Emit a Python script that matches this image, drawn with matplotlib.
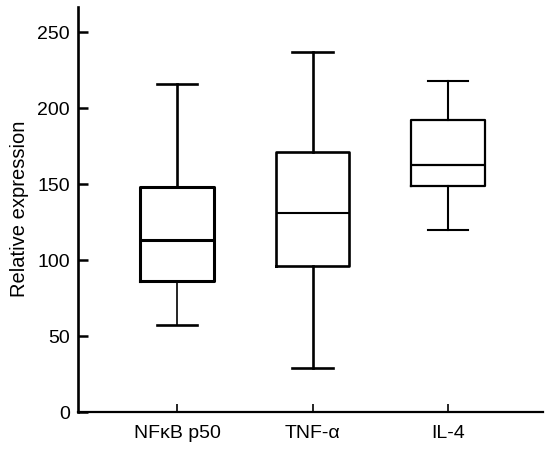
import matplotlib
matplotlib.use('Agg')
import matplotlib.pyplot as plt

plt.rcParams['font.family'] = ['Liberation Sans', 'DejaVu Sans']

# box statistics
labels = ['NFκB p50', 'TNF-α', 'IL-4']
whislo = [57, 29, 120]
q1 = [86, 96, 149]
med = [113, 131, 163]
q3 = [148, 171, 192]
whishi = [216, 237, 218]

stats = []
for i in range(len(labels)):
    stats.append(dict(label=labels[i], whislo=whislo[i], q1=q1[i], med=med[i],
                      q3=q3[i], whishi=whishi[i], fliers=[]))

fig = plt.figure(figsize=(5.5, 4.54), dpi=100)
ax = fig.add_axes([0.142, 0.0925, 0.845, 0.893])

parts = ax.bxp(stats, positions=[1, 2, 3], widths=0.54, showfliers=False,
               boxprops=dict(color='black', linewidth=1.9),
               medianprops=dict(color='black', linewidth=1.9),
               whiskerprops=dict(color='black', linewidth=1.9),
               capprops=dict(color='black', linewidth=1.9),
               capwidths=0.3)

# line weights differ a little per box in the original
box_lw = [2.2, 1.9, 1.6]
med_lw = [2.2, 1.5, 1.6]
whisk_lw = [(1.2, 1.9), (1.9, 1.9), (1.5, 1.5)]
for i in range(3):
    parts['boxes'][i].set_linewidth(box_lw[i])
    parts['medians'][i].set_linewidth(med_lw[i])
    for j in range(2):
        parts['whiskers'][2 * i + j].set_linewidth(whisk_lw[i][j])
        parts['caps'][2 * i + j].set_linewidth(whisk_lw[i][j] if i == 2 else 1.9)

ax.set_xlim(0.27, 3.7)
ax.set_ylim(0, 267)
ax.set_yticks([0, 50, 100, 150, 200, 250])
ax.set_ylabel('Relative expression', fontsize=14.5, labelpad=6)

for s in ['top', 'right']:
    ax.spines[s].set_visible(False)
ax.spines['left'].set_linewidth(1.9)
ax.spines['bottom'].set_linewidth(1.6)

ax.tick_params(axis='y', direction='in', length=7, width=1.8, labelsize=14, pad=6)
ax.tick_params(axis='x', direction='in', length=6, width=1.2, labelsize=14, pad=9)

plt.savefig('out.png', dpi=100)
plt.close()
